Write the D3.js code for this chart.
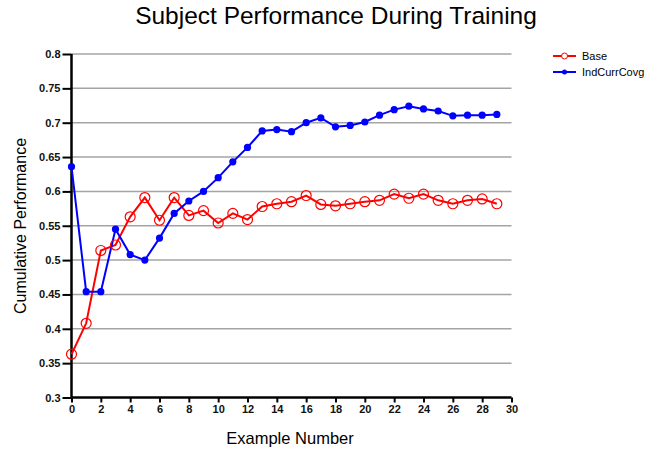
<!DOCTYPE html>
<html>
<head>
<meta charset="utf-8">
<script src="https://cdn.jsdelivr.net/npm/d3@7"></script>
<style>
  html, body { margin: 0; padding: 0; background: #fff; }
  svg { display: block; font-family: "Liberation Sans", Arial, sans-serif; }
</style>
</head>
<body>
<svg id="chart" width="666" height="450"></svg>
<script>
// Example index for each recorded step
const examples = d3.range(0, 30);

// Cumulative performance of the baseline subject
const baseValues = [
  0.363, 0.408, 0.514, 0.522, 0.563, 0.591, 0.558, 0.591, 0.565, 0.572,
  0.554, 0.568, 0.559, 0.578, 0.582, 0.585, 0.594, 0.581, 0.579, 0.582,
  0.585, 0.587, 0.596, 0.590, 0.596, 0.587, 0.582, 0.587, 0.589, 0.582
];

// Cumulative performance with the IndCurrCovg curriculum
const indValues = [
  0.636, 0.454, 0.454, 0.545, 0.508, 0.500, 0.532, 0.568, 0.586, 0.600,
  0.620, 0.643, 0.664, 0.688, 0.690, 0.687, 0.700, 0.707, 0.694, 0.696,
  0.701, 0.711, 0.719, 0.724, 0.720, 0.717, 0.710, 0.711, 0.711, 0.712
];

const seriesNames = ["Base", "IndCurrCovg"];
const yTicks = [0.3, 0.35, 0.4, 0.45, 0.5, 0.55, 0.6, 0.65, 0.7, 0.75, 0.8];
const xTicks = d3.range(0, 31, 2);

const svg = d3.select("#chart");
const plot = { left: 71.5, right: 511.5, top: 54, bottom: 397.5 };

const x = d3.scaleLinear().domain([0, 30]).range([plot.left, plot.right]);
const y = d3.scaleLinear().domain([0.3, 0.8]).range([plot.bottom, plot.top]);

// Horizontal grid
svg.append("g")
  .selectAll("line")
  .data(yTicks.slice(1))
  .join("line")
  .attr("x1", plot.left)
  .attr("x2", plot.right)
  .attr("y1", d => y(d))
  .attr("y2", d => y(d))
  .attr("stroke", "#a4a4a4")
  .attr("stroke-width", 1.5);

// Y axis
const yAxis = svg.append("g")
  .attr("transform", `translate(${plot.left},0)`)
  .call(d3.axisLeft(y).tickValues(yTicks).tickSize(9).tickPadding(2)
    .tickFormat(d => d3.format("")(+d.toFixed(2))));
yAxis.select(".domain").attr("stroke", "#000").attr("stroke-width", 2.5)
  .attr("d", `M0,${plot.top}V${plot.bottom}`);
yAxis.selectAll(".tick line").attr("stroke", "#000").attr("stroke-width", 2);
yAxis.selectAll(".tick text")
  .attr("font-size", 11).attr("font-weight", "bold").attr("fill", "#111")
  .attr("font-family", "Liberation Sans, Arial, sans-serif");

// X axis
const xAxis = svg.append("g")
  .attr("transform", `translate(0,${plot.bottom})`)
  .call(d3.axisBottom(x).tickValues(xTicks).tickSize(5).tickPadding(3));
xAxis.select(".domain").attr("stroke", "#000").attr("stroke-width", 2.5)
  .attr("d", `M${plot.left},0H${plot.right}`);
xAxis.selectAll(".tick line").attr("stroke", "#000").attr("stroke-width", 2);
xAxis.selectAll(".tick text")
  .attr("font-size", 11).attr("font-weight", "bold").attr("fill", "#111")
  .attr("font-family", "Liberation Sans, Arial, sans-serif");

// Series lines and markers
const line = d3.line().x((d, i) => x(examples[i])).y(d => y(d));

svg.append("path")
  .datum(baseValues)
  .attr("fill", "none")
  .attr("stroke", "#ff0000")
  .attr("stroke-width", 2)
  .attr("d", line);

svg.append("path")
  .datum(indValues)
  .attr("fill", "none")
  .attr("stroke", "#0000ff")
  .attr("stroke-width", 2)
  .attr("d", line);

svg.append("g")
  .selectAll("circle")
  .data(baseValues)
  .join("circle")
  .attr("cx", (d, i) => x(examples[i]))
  .attr("cy", d => y(d))
  .attr("r", 5)
  .attr("fill", "none")
  .attr("stroke", "#ff0000")
  .attr("stroke-width", 1.2);

svg.append("g")
  .selectAll("circle")
  .data(indValues)
  .join("circle")
  .attr("cx", (d, i) => x(examples[i]))
  .attr("cy", d => y(d))
  .attr("r", 3.6)
  .attr("fill", "#0000ff");

// Title and axis labels
svg.append("text")
  .attr("x", 336).attr("y", 24)
  .attr("text-anchor", "middle")
  .attr("font-size", 24.5)
  .attr("fill", "#000")
  .text("Subject Performance During Training");

svg.append("text")
  .attr("x", 290).attr("y", 444)
  .attr("text-anchor", "middle")
  .attr("font-size", 16.5)
  .attr("fill", "#000")
  .text("Example Number");

svg.append("text")
  .attr("transform", "translate(26,226) rotate(-90)")
  .attr("text-anchor", "middle")
  .attr("font-size", 16)
  .attr("fill", "#000")
  .text("Cumulative Performance");

// Legend
const legend = svg.append("g");
const legendColors = ["#ff0000", "#0000ff"];
seriesNames.forEach((name, i) => {
  const ly = 56 + i * 16;
  const g = legend.append("g");
  g.append("line")
    .attr("x1", 553).attr("x2", 576).attr("y1", ly).attr("y2", ly)
    .attr("stroke", legendColors[i]).attr("stroke-width", 2);
  if (i === 0) {
    g.append("circle").attr("cx", 564.5).attr("cy", ly).attr("r", 3)
      .attr("fill", "#fff").attr("stroke", legendColors[i]).attr("stroke-width", 1);
  } else {
    g.append("circle").attr("cx", 564.5).attr("cy", ly).attr("r", 2.5)
      .attr("fill", legendColors[i]);
  }
  g.append("text")
    .attr("x", 582).attr("y", ly + 4)
    .attr("font-size", 11)
    .attr("fill", "#000")
    .text(name);
});
</script>
</body>
</html>
